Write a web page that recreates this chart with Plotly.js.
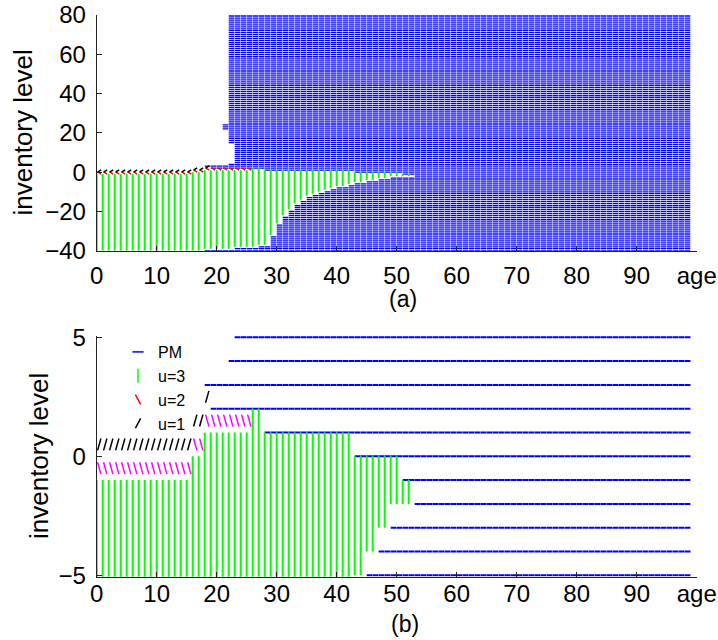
<!DOCTYPE html>
<html><head><meta charset="utf-8">
<script src="https://cdn.plot.ly/plotly-3.0.1.min.js"></script>
<style>html,body{margin:0;padding:0;background:#fff;} #chart{width:718px;height:640px;}</style>
</head><body><div id="chart"></div>
<script>
// ---- data ----
// Each block: [first age, last age, lowest inventory level, highest inventory level]
const pmBlocks = [
  [18, 18, 3, 3], [19, 21, 2, 3], [21, 21, 22, 24], [22, 22, 2, 4], [22, 22, 15, 80],
  [23, 27, 2, 80], [28, 42, 1, 80], [43, 50, 0, 80], [51, 52, -1, 80], [53, 98, -40, 80],
  [18, 22, -40, -40], [23, 26, -40, -39], [27, 28, -40, -38], [29, 29, -40, -33],
  [30, 30, -40, -27], [31, 31, -40, -23], [32, 32, -40, -20], [33, 33, -40, -17],
  [34, 34, -40, -15], [35, 35, -40, -13], [36, 36, -40, -12], [37, 37, -40, -11],
  [38, 38, -40, -10], [39, 39, -40, -9], [40, 41, -40, -8], [42, 42, -40, -7],
  [43, 44, -40, -6], [45, 46, -40, -5], [47, 48, -40, -4], [49, 52, -40, -3]
];
const u3Blocks = [
  [0, 15, -40, -2], [16, 17, -40, -1], [18, 22, -39, 0], [23, 25, -38, 0],
  [26, 26, -38, 1], [27, 27, -37, 1], [28, 28, -37, 0], [29, 29, -32, 0],
  [30, 30, -26, 0], [31, 31, -22, 0], [32, 32, -19, 0], [33, 33, -16, 0],
  [34, 34, -14, 0], [35, 35, -12, 0], [36, 36, -11, 0], [37, 37, -10, 0],
  [38, 38, -9, 0], [39, 39, -8, 0], [40, 41, -7, 0], [42, 42, -6, 0],
  [43, 44, -5, -1], [45, 46, -4, -1], [47, 48, -3, -1], [49, 50, -2, -1], [51, 52, -2, -2]
];
const u2Blocks = [[0, 15, -1, -1], [16, 17, 0, 0], [18, 25, 1, 1]];
const u1Blocks = [[0, 15, 0, 0], [16, 17, 1, 1], [18, 18, 2, 2]];

const actionNames = ['PM', 'u=3', 'u=2', 'u=1'];
const xTickVals = [0, 10, 20, 30, 40, 50, 60, 70, 80, 90, 100];
const xTickText = ['0', '10', '20', '30', '40', '50', '60', '70', '80', '90', 'age'];
const yTicksA = [-40, -20, 0, 20, 40, 60, 80];
const yTicksB = [-5, 0, 5];
const yRangeA = [-40, 80];
const yRangeB = [-5.06, 5.06];
const panelLabels = ['(a)', '(b)'];
const yTitle = 'inventory level';

// ---- build marks from the blocks ----
function pmSegments(blocks, kMin, kMax, gap) {
  const x = [], y = [];
  blocks.forEach(([a0, a1, k0, k1]) => {
    for (let t = a0; t <= a1; t++) {
      for (let k = Math.max(k0, kMin); k <= Math.min(k1, kMax); k++) {
        x.push(t, t + 1 - gap, null); y.push(k, k, null);
      }
    }
  });
  return {x, y};
}
function u3Segments(blocks) {
  const x = [], y = [];
  blocks.forEach(([a0, a1, k0, k1]) => {
    for (let t = a0; t <= a1; t++) { x.push(t, t, null); y.push(k0, k1 + 1, null); }
  });
  return {x, y};
}
function slashSegments(blocks, back, g) {
  const x = [], y = [];
  blocks.forEach(([a0, a1, k0, k1]) => {
    for (let t = a0; t <= a1; t++) {
      for (let k = k0; k <= k1; k++) {
        x.push(t + g.x0, t + g.x1, null);
        if (back) y.push(k + g.hi, k + g.lo, null); else y.push(k + g.lo, k + g.hi, null);
      }
    }
  });
  return {x, y};
}

const geomA = {x0: 0.15, x1: 0.75, lo: 0.0, hi: 1.15};
const geomB = {x0: 0.15, x1: 0.7, lo: 0.25, hi: 0.75};

function panelTraces(xa, ya, kMin, kMax, pmWidth, pmGap, u2Color, geom) {
  const pm = pmSegments(pmBlocks, kMin, kMax, pmGap);
  const u3 = u3Segments(u3Blocks);
  const u2 = slashSegments(u2Blocks, true, geom);
  const u1 = slashSegments(u1Blocks, false, geom);
  const common = {type: 'scatter', mode: 'lines', xaxis: xa, yaxis: ya, showlegend: false, hoverinfo: 'skip'};
  return [
    Object.assign({}, common, {name: actionNames[0], x: pm.x, y: pm.y, line: {color: '#0000ff', width: pmWidth}}),
    Object.assign({}, common, {name: actionNames[1], x: u3.x, y: u3.y, line: {color: '#00ff00', width: 2}}),
    Object.assign({}, common, {name: actionNames[2], x: u2.x, y: u2.y, line: {color: u2Color, width: 1.5}}),
    Object.assign({}, common, {name: actionNames[3], x: u1.x, y: u1.y, line: {color: '#000000', width: 1.5}})
  ];
}

const traces = [].concat(
  panelTraces('x', 'y', -40, 80, 1.25, 0.07, '#ff0000', geomA),
  panelTraces('x2', 'y2', -6, 5, 2, 0.04, '#ff00ff', geomB)
);

// legend entries
const legendStyles = [
  {symbol: 'line-ew', color: '#0000ff', size: 8, angle: 0},
  {symbol: 'line-ns', color: '#00ff00', size: 10, angle: 0},
  {symbol: 'line-ns', color: '#ff0000', size: 8, angle: -28},
  {symbol: 'line-ns', color: '#000000', size: 8, angle: 28}
];
actionNames.forEach((nm, i) => {
  const s = legendStyles[i];
  traces.push({
    type: 'scatter', mode: 'markers', name: nm, x: [null], y: [null], xaxis: 'x2', yaxis: 'y2',
    showlegend: true, hoverinfo: 'skip',
    marker: {symbol: s.symbol, size: s.size, angle: s.angle, color: s.color, line: {color: s.color, width: 1.5}}
  });
});

const FONT = 'Liberation Sans, Arial, Helvetica, sans-serif';
const W = 718, H = 640;
const xDom = [96.7 / W, 696.7 / W];

function xAxis(anchor, standoff) {
  return {
    domain: xDom, range: [0, 100], anchor: anchor, tickmode: 'array', tickvals: xTickVals, ticktext: xTickText,
    ticks: 'inside', ticklen: 5, tickwidth: 1, tickcolor: '#222', showline: true, linecolor: '#222', linewidth: 1,
    showgrid: false, zeroline: false, tickfont: {family: FONT, size: 24, color: '#000'}, automargin: false,
    ticklabelstandoff: standoff, fixedrange: true
  };
}
function yAxis(anchor, dom, range, ticks) {
  return {
    domain: dom, range: range, anchor: anchor, tickmode: 'array', tickvals: ticks,
    ticks: 'inside', ticklen: 5, tickwidth: 1, tickcolor: '#222', showline: true, linecolor: '#222', linewidth: 1,
    showgrid: false, zeroline: false, tickfont: {family: FONT, size: 24, color: '#000'}, automargin: false,
    ticklabelstandoff: 5, fixedrange: true
  };
}

const layout = {
  width: W, height: H, margin: {l: 0, r: 0, t: 0, b: 0}, paper_bgcolor: '#fff', plot_bgcolor: '#fff',
  font: {family: FONT, color: '#000'},
  xaxis: xAxis('y', 3),
  yaxis: yAxis('x', [1 - 250.7 / H, 1 - 15 / H], yRangeA, yTicksA),
  xaxis2: xAxis('y2', -5),
  yaxis2: yAxis('x2', [1 - 576.7 / H, 1 - 335.9 / H], yRangeB, yTicksB),
  showlegend: true,
  legend: {x: 118 / W, y: 1 - 335 / H, xanchor: 'left', yanchor: 'top', bgcolor: 'rgba(0,0,0,0)', borderwidth: 0,
           font: {family: FONT, size: 16, color: '#000'}, itemwidth: 30, tracegroupgap: 0, itemsizing: 'trace'},
  annotations: [
    {text: yTitle, xref: 'paper', yref: 'paper', x: 22.5 / W, y: 1 - 133 / H, textangle: -90, showarrow: false,
     xanchor: 'center', yanchor: 'middle', font: {family: FONT, size: 26, color: '#000'}},
    {text: yTitle, xref: 'paper', yref: 'paper', x: 39 / W, y: 1 - 456 / H, textangle: -90, showarrow: false,
     xanchor: 'center', yanchor: 'middle', font: {family: FONT, size: 26, color: '#000'}},
    {text: panelLabels[0], xref: 'paper', yref: 'paper', x: 403 / W, y: 1 - 299 / H, showarrow: false,
     xanchor: 'center', yanchor: 'middle', font: {family: FONT, size: 23, color: '#000'}},
    {text: panelLabels[1], xref: 'paper', yref: 'paper', x: 405 / W, y: 1 - 624 / H, showarrow: false,
     xanchor: 'center', yanchor: 'middle', font: {family: FONT, size: 23, color: '#000'}}
  ]
};

Plotly.newPlot('chart', traces, layout, {staticPlot: true, displayModeBar: false});
</script>
</body></html>
